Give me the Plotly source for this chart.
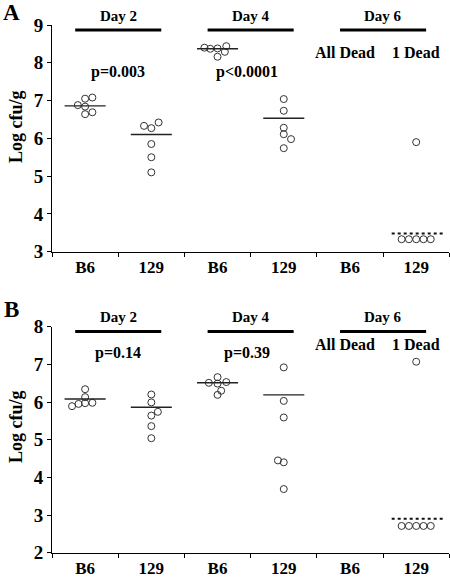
import plotly.graph_objects as go

# ---------------- data ----------------
tick_labels = ["B6", "129", "B6", "129", "B6", "129"]
y_ticks_A = [3, 4, 5, 6, 7, 8, 9]
y_ticks_B = [2, 3, 4, 5, 6, 7, 8]
day_labels = ["Day 2", "Day 4", "Day 6"]

# Panel A values (log cfu/g) per group
A_d2_B6 = [7.05, 7.08, 6.88, 6.84, 6.64, 6.69]
A_d2_129 = [6.33, 6.27, 6.42, 5.85, 5.50, 5.10]
A_d4_B6 = [8.40, 8.37, 8.38, 8.44, 8.29, 8.16]
A_d4_129 = [7.04, 6.73, 6.28, 6.11, 5.98, 5.74]
A_d6_129 = [5.90, 3.33, 3.33, 3.33, 3.33, 3.33]
A_lines = [6.86, 6.10, 8.37, 6.53]
A_limit = 3.48
A_pvals = ["p=0.003", "p<0.0001"]

# Panel B values
B_d2_B6 = [6.34, 6.13, 5.89, 5.95, 5.97, 5.98]
B_d2_129 = [6.20, 5.99, 5.64, 5.74, 5.36, 5.04]
B_d4_B6 = [6.51, 6.66, 6.49, 6.53, 6.30, 6.19]
B_d4_129 = [6.92, 6.03, 5.59, 4.45, 4.40, 3.69]
B_d6_129 = [7.07, 2.71, 2.71, 2.71, 2.71, 2.71]
B_lines = [6.08, 5.86, 6.51, 6.19]
B_limit = 2.90
B_pvals = ["p=0.14", "p=0.39"]

# horizontal jitter (in circle widths) used in the original scatter
A_jit = [[0, 1, -1, 0, 0, 1], [-1, 0, 1, 0, 0, 0], [-1.8, -1, 0, 1.2, 1, 0],
         [0, 0, 0, 0, 1, 0], [0, -2, -1, 0, 1, 2]]
B_jit = [[0, 0, -1.8, -0.9, 0, 1], [0, 0, 0, 0.9, 0, 0], [-1.2, 0, 0, 1.2, 0.5, 0],
         [0, 0, 0, -0.8, 0, 0], [0, -2, -1, 0, 1, 2]]

# ---------------- figure ----------------
FONT = "Liberation Serif, Times New Roman, serif"
W, H = 450, 577
U = 0.11  # jitter unit in x data units

fig = go.Figure()

def add_panel(groups, cats, jits, xa, ya):
    for vals, c, j in zip(groups, cats, jits):
        fig.add_trace(go.Scatter(
            x=[c + U * o for o in j], y=vals, mode="markers",
            marker=dict(symbol="circle-open", size=7, color="#333",
                        line=dict(width=1, color="#333")),
            xaxis=xa, yaxis=ya, showlegend=False, hoverinfo="y", cliponaxis=False))

add_panel([A_d2_B6, A_d2_129, A_d4_B6, A_d4_129, A_d6_129], [0, 1, 2, 3, 5], A_jit, "x", "y")
add_panel([B_d2_B6, B_d2_129, B_d4_B6, B_d4_129, B_d6_129], [0, 1, 2, 3, 5], B_jit, "x2", "y2")

shapes = []
annos = []

def txt(**kw):
    d = dict(showarrow=False, xanchor="center", yanchor="middle")
    d.update(kw)
    annos.append(d)

def panel_decor(lines, limit, pvals, xr, yr, bar_y, day_py, p_y, dead_y):
    for c, v in zip([0, 1, 2, 3], lines):
        shapes.append(dict(type="line", xref=xr, yref=yr, x0=c - 0.31, x1=c + 0.31,
                           y0=v, y1=v, line=dict(color="#222", width=1.4)))
    shapes.append(dict(type="line", xref=xr, yref=yr, x0=5 - 0.37, x1=5 + 0.40,
                       y0=limit, y1=limit, line=dict(color="#111", width=2, dash="dot")))
    for g, lab in enumerate(day_labels):
        cx = 2 * g + 0.5
        shapes.append(dict(type="line", xref=xr, yref=yr, x0=cx - 0.65, x1=cx + 0.65,
                           y0=bar_y, y1=bar_y, line=dict(color="black", width=3)))
        txt(xref=xr, yref="paper", x=cx, y=1 - day_py / H, text=lab,
            font=dict(family=FONT, size=15, color="black", weight="bold"))
    for p, px in zip(pvals, [0.5, 2.45]):
        txt(xref=xr, yref=yr, x=px, y=p_y, text=p,
            font=dict(family=FONT, size=16, color="black", weight="bold"))
    for t, px in [("All Dead", 3.92), ("1 Dead", 4.99)]:
        txt(xref=xr, yref=yr, x=px, y=dead_y, text=t,
            font=dict(family=FONT, size=16, color="black", weight="bold"))

panel_decor(A_lines, A_limit, A_pvals, "x", "y", 8.87, 16, 7.75, 8.28)
panel_decor(B_lines, B_limit, B_pvals, "x2", "y2", 7.87, 317.3, 7.29, 7.53)

# panel letters and y titles
for letter, py in [("A", 12), ("B", 309)]:
    txt(xref="paper", yref="paper", x=11 / W, y=1 - py / H, text=letter,
        font=dict(family=FONT, size=23, color="black", weight="bold"))
for py in [127, 427]:
    txt(xref="paper", yref="paper", x=16 / W, y=1 - py / H, text="Log cfu/g", textangle=-90,
        font=dict(family=FONT, size=18, color="black", weight="bold"))

xdom = [52 / W, 449.3 / W]
axis_common = dict(showgrid=False, zeroline=False, showline=True, linecolor="black", linewidth=1,
                   automargin=False)
xaxis_common = dict(axis_common, range=[-0.5, 5.5], tickvals=list(range(6)), ticktext=tick_labels,
                    ticks="", tickfont=dict(family=FONT, size=17, color="black", weight="bold"),
                    minor=dict(tickvals=[-0.5, 0.5, 1.5, 2.5, 3.5, 4.5, 5.5], ticks="outside",
                               ticklen=4, tickcolor="black"))

fig.update_layout(
    width=W, height=H, margin=dict(l=0, r=0, t=0, b=0),
    paper_bgcolor="white", plot_bgcolor="white",
    xaxis=dict(xaxis_common, domain=xdom, anchor="y"),
    yaxis=dict(axis_common, domain=[1 - 251.7 / H, 1 - 25 / H], range=[3, 9], tickvals=y_ticks_A,
               ticks="outside", ticklen=4, tickcolor="black",
               tickfont=dict(family=FONT, size=19, color="black", weight="bold"), anchor="x"),
    xaxis2=dict(xaxis_common, domain=xdom, anchor="y2"),
    yaxis2=dict(axis_common, domain=[1 - 552.7 / H, 1 - 326.7 / H], range=[2, 8], tickvals=y_ticks_B,
                ticks="outside", ticklen=4, tickcolor="black",
                tickfont=dict(family=FONT, size=19, color="black", weight="bold"), anchor="x2"),
    shapes=shapes, annotations=annos,
)

fig.write_html("out.html", config={"displayModeBar": False},
               post_script="document.body.style.margin='0';document.body.style.overflow='hidden';")
